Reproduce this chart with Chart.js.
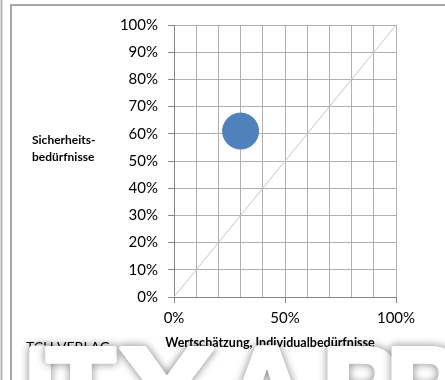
<!DOCTYPE html>
<html>
<head>
<meta charset="utf-8">
<script src="https://cdn.jsdelivr.net/npm/chart.js@4/dist/chart.umd.min.js"></script>
<style>
  html, body { margin: 0; padding: 0; background: #fff; }
  #wrap { width: 445px; height: 380px; position: relative; }
</style>
</head>
<body>
<div id="wrap"><canvas id="c"></canvas></div>
<script>
// Position of the group: x = Wertschätzung, y = Sicherheitsbedürfnisse (shares)
const pointX = [0.30];
const pointY = [0.61];
// Reference diagonal (x = y)
const diagX = [0, 1];
const diagY = [0, 1];
// Axis texts
const yTitleLines = ['Sicherheits-', 'bedürfnisse'];
const xTitle = 'Wertschätzung, Individualbedürfnisse';
const publisher = 'TCU VERLAG';
const stampLetters = ['I', 'T', 'Y', 'A', 'P', 'P'];
const stampCenters = [40, 81, 167, 267, 360, 424];
const stampWiden = [1, 1, 1.25, 1, 1, 1];
const xLabelTicks = [0, 0.5, 1];

const pct = v => Math.round(v * 100) + '%';
const isLabelled = v => xLabelTicks.some(t => Math.abs(t - v) < 1e-6);

const framePlugin = {
  id: 'frame',
  beforeDraw(chart) {
    const ctx = chart.ctx;
    ctx.save();
    ctx.fillStyle = '#fff';
    ctx.fillRect(0, 0, chart.width, chart.height);
    ctx.strokeStyle = '#b4b4b4';
    ctx.lineWidth = 2;
    ctx.beginPath();
    ctx.moveTo(1.5, 0); ctx.lineTo(1.5, chart.height);
    ctx.stroke();
    ctx.strokeStyle = '#a6a6a6';
    ctx.beginPath();
    ctx.moveTo(11, chart.height); ctx.lineTo(11, 5); ctx.lineTo(chart.width, 5);
    ctx.stroke();
    ctx.restore();
  },
  afterDraw(chart) {
    const ctx = chart.ctx;
    ctx.save();
    ctx.fillStyle = '#000';
    ctx.font = 'bold 12px Lato';
    ctx.textAlign = 'left';
    ctx.textBaseline = 'middle';
    ctx.fillText(yTitleLines[0], 32, 140);
    ctx.fillText(yTitleLines[1], 32, 157);
    ctx.font = 'bold 12.5px Lato';
    ctx.textAlign = 'center';
    ctx.fillText(xTitle, 270, 343);
    ctx.font = '14px Lato';
    ctx.textAlign = 'left';
    ctx.textBaseline = 'alphabetic';
    ctx.fillText(publisher, 26, 352);
    // stamp lettering across the bottom: soft shadow, then white fill with a white rim
    ctx.font = 'bold 112px "Liberation Sans"';
    ctx.textAlign = 'center';
    ctx.lineJoin = 'round';
    stampLetters.forEach((ch, i) => {
      ctx.save();
      ctx.translate(stampCenters[i], 425);
      ctx.scale(stampWiden[i], 1);
      ctx.shadowColor = 'rgba(0,0,0,0.6)';
      ctx.shadowBlur = 9;
      ctx.strokeStyle = '#fff';
      ctx.lineWidth = 5;
      ctx.strokeText(ch, 0, 0);
      ctx.shadowColor = 'rgba(0,0,0,0)';
      ctx.fillStyle = '#fff';
      ctx.fillText(ch, 0, 0);
      ctx.strokeText(ch, 0, 0);
      ctx.restore();
    });
    ctx.restore();
  }
};

new Chart(document.getElementById('c'), {
  type: 'scatter',
  data: {
    datasets: [
      {
        data: pointX.map((x, i) => ({ x, y: pointY[i] })),
        backgroundColor: '#4f81bd',
        borderColor: '#4f81bd',
        pointRadius: 18,
        pointHoverRadius: 18
      },
      {
        data: diagX.map((x, i) => ({ x, y: diagY[i] })),
        showLine: true,
        borderColor: '#c6c6c6',
        borderWidth: 1,
        pointRadius: 0,
        pointHoverRadius: 0
      }
    ]
  },
  plugins: [framePlugin],
  options: {
    responsive: true,
    maintainAspectRatio: false,
    animation: false,
    events: [],
    layout: { padding: { left: 0, right: 49, top: 25, bottom: 0 } },
    plugins: { legend: { display: false }, tooltip: { enabled: false } },
    scales: {
      x: {
        type: 'linear', min: 0, max: 1,
        afterFit: s => { s.height = 83; },
        border: { color: '#868686', width: 1 },
        grid: {
          color: '#b0b0b0', lineWidth: 1, tickLength: 6,
          tickColor: c => (c.tick && isLabelled(c.tick.value)) ? '#868686' : 'rgba(0,0,0,0)'
        },
        ticks: {
          stepSize: 0.1, padding: 6, maxRotation: 0, autoSkip: false,
          color: '#000', font: { family: 'Lato', size: 15 },
          callback: v => isLabelled(v) ? pct(v) : ''
        }
      },
      y: {
        type: 'linear', min: 0, max: 1,
        afterFit: s => { s.width = 174; },
        border: { color: '#868686', width: 1 },
        grid: { color: '#b0b0b0', lineWidth: 1, tickLength: 6, tickColor: '#868686' },
        ticks: {
          stepSize: 0.1, padding: 10, autoSkip: false,
          color: '#000', font: { family: 'Lato', size: 15 },
          callback: v => pct(v)
        }
      }
    }
  }
});
</script>
</body>
</html>
